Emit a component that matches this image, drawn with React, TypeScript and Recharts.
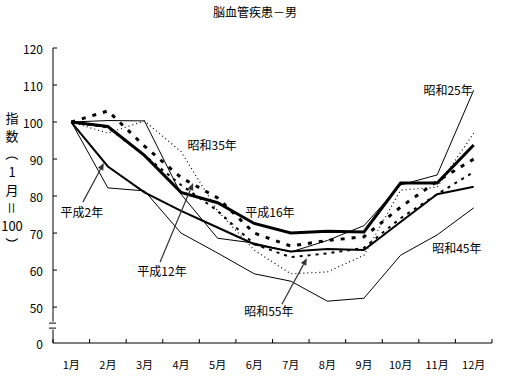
import React from 'react';
import { LineChart, Line, XAxis, YAxis, ReferenceDot } from 'recharts';

const months = ['1月', '2月', '3月', '4月', '5月', '6月', '7月', '8月', '9月', '10月', '11月', '12月'];

// 指数（1月=100）
const s25 = [100, 100.4, 100.3, 80.5, 68.6, 67.3, 64.9, 68, 72, 83, 85.7, 108.6];
const s35 = [100, 97, 100.3, 92, 76, 65.4, 59, 59.5, 64, 81.6, 82.4, 97];
const s45 = [100, 82.2, 81.4, 70, 64.6, 59, 57, 51.6, 52.4, 64, 69.5, 76.8];
const s55 = [100, 98.5, 91, 83, 76, 67, 63.5, 64.5, 66, 74, 80.5, 86.5];
const h2 = [100, 88, 81, 76, 71.5, 67, 65, 65.7, 65.4, 73, 80.5, 82.5];
const h12 = [100, 103, 93.5, 85, 79.5, 70, 66.5, 68, 69, 77, 84, 90];
const h16 = [100, 98.8, 91, 81, 78.2, 72.6, 70, 70.5, 70.3, 83.5, 83.5, 93.8];

const Y_MIN = 40.3; // shown as "0" below the axis break
const Y_BREAK = 45;
const yTicks = [Y_MIN, Y_BREAK, 50, 60, 70, 80, 90, 100, 110, 120];
const xTicks = [0.5, ...months.flatMap((_, i) => [i + 1, i + 1.5])];

const seriesLabels = [
  { text: '平成2年', m: 1.29, v: 75.9 },
  { text: '平成12年', m: 3.48, v: 60 },
  { text: '平成16年', m: 6.43, v: 75.7 },
  { text: '昭和35年', m: 4.85, v: 93.8 },
  { text: '昭和25年', m: 11.3, v: 108.9 },
  { text: '昭和45年', m: 11.54, v: 66.2 },
  { text: '昭和55年', m: 6.4, v: 49.2 },
];

const arrows = [
  { m: 1.89, v: 88.9, dx: -21, dy: 39 },
  { m: 4.33, v: 83.5, dx: -33, dy: 79 },
  { m: 7.44, v: 63.2, dx: -25, dy: 46 },
];

// vertical axis title, one entry per line; rotated ones are turned 90deg
const yTitle = [
  { c: '指', rot: false },
  { c: '数', rot: false },
  { c: '（', rot: true },
  { c: '1', rot: false },
  { c: '月', rot: false },
  { c: '＝', rot: true },
  { c: '100', rot: false },
  { c: '）', rot: true },
];

const rows = months.map((name, i) => ({
  m: i + 1,
  name,
  s25: s25[i],
  s35: s35[i],
  s45: s45[i],
  s55: s55[i],
  h2: h2[i],
  h12: h12[i],
  h16: h16[i],
}));

const FONT = '"Noto Sans CJK JP", sans-serif';

function XTick(props: any) {
  const { x, y, payload } = props;
  const v = payload.value;
  if (Number.isInteger(v)) {
    return (
      <text x={x} y={y + 21} textAnchor="middle" dominantBaseline="central" fontSize={11} fill="#000" fontFamily={FONT}>
        {months[v - 1]}
      </text>
    );
  }
  return <line x1={x} x2={x} y1={y} y2={y - 4} stroke="#000" />;
}

function YTick(props: any) {
  const { x, y, payload } = props;
  const v = payload.value;
  if (v === Y_BREAK) {
    return (
      <g>
        <rect x={x - 4} y={y - 4} width={8} height={8} fill="#fff" />
        <line x1={x - 4} x2={x + 3} y1={y - 2.5} y2={y - 2.5} stroke="#000" />
        <line x1={x - 4} x2={x + 3} y1={y + 2.5} y2={y + 2.5} stroke="#000" />
      </g>
    );
  }
  return (
    <g>
      {v !== Y_MIN && <line x1={x} x2={x + 4} y1={y} y2={y} stroke="#000" />}
      <text x={x - 10} y={y} textAnchor="end" dominantBaseline="central" fontSize={12} fill="#000" fontFamily={FONT}>
        {v === Y_MIN ? '0' : v}
      </text>
    </g>
  );
}

function Arrow({ cx, cy, dx, dy }: any) {
  const len = Math.hypot(dx, dy);
  const ux = -dx / len;
  const uy = -dy / len;
  const hx = cx - ux * 7;
  const hy = cy - uy * 7;
  const px = -uy * 3;
  const py = ux * 3;
  return (
    <g>
      <line x1={cx + dx} y1={cy + dy} x2={hx} y2={hy} stroke="#333" strokeWidth={1.2} />
      <polygon points={`${cx},${cy} ${hx + px},${hy + py} ${hx - px},${hy - py}`} fill="#333" />
    </g>
  );
}

export default function App() {
  return (
    <div style={{ position: 'absolute', left: 0, top: 0, width: 505, height: 377, background: '#fff', fontFamily: FONT }}>
      <div style={{ position: 'absolute', top: 4, left: 0, width: 510, textAlign: 'center', fontSize: 12, lineHeight: '16px' }}>
        脳血管疾患－男
      </div>
      <div style={{ position: 'absolute', left: 2, top: 109, width: 20, display: 'flex', flexDirection: 'column', alignItems: 'center', fontSize: 13, lineHeight: '18px' }}>
        {yTitle.map((t, i) => (
          <span key={i} style={t.rot ? { display: 'inline-block', transform: 'rotate(90deg)' } : undefined}>
            {t.c}
          </span>
        ))}
      </div>
      <LineChart width={505} height={377} data={rows} margin={{ top: 48, right: 13, bottom: 0, left: 13 }}>
        <XAxis
          dataKey="m"
          type="number"
          domain={[0.5, 12.5]}
          ticks={xTicks}
          interval={0}
          tickSize={0}
          tickMargin={0}
          height={34}
          axisLine={{ stroke: '#000' }}
          tick={<XTick />}
        />
        <YAxis
          type="number"
          domain={[Y_MIN, 120]}
          ticks={yTicks}
          interval={0}
          tickSize={0}
          tickMargin={0}
          width={40}
          axisLine={{ stroke: '#000' }}
          tick={<YTick />}
        />
        <Line dataKey="s25" stroke="#000" strokeWidth={1} dot={false} isAnimationActive={false} />
        <Line dataKey="s45" stroke="#000" strokeWidth={1} dot={false} isAnimationActive={false} />
        <Line dataKey="s35" stroke="#000" strokeWidth={1.2} strokeDasharray="1 3" dot={false} isAnimationActive={false} />
        <Line dataKey="s55" stroke="#000" strokeWidth={2} strokeDasharray="3 5" dot={false} isAnimationActive={false} />
        <Line dataKey="h2" stroke="#000" strokeWidth={2} dot={false} isAnimationActive={false} />
        <Line dataKey="h12" stroke="#000" strokeWidth={3} strokeDasharray="4 7" dot={false} isAnimationActive={false} />
        <Line dataKey="h16" stroke="#000" strokeWidth={3} dot={false} isAnimationActive={false} />
        {arrows.map((a, i) => (
          <ReferenceDot
            key={'a' + i}
            x={a.m}
            y={a.v}
            r={0}
            shape={(p: any) => <Arrow cx={p.cx} cy={p.cy} dx={a.dx} dy={a.dy} />}
          />
        ))}
        {seriesLabels.map((l) => (
          <ReferenceDot
            key={l.text}
            x={l.m}
            y={l.v}
            r={0}
            shape={(p: any) => (
              <text x={p.cx} y={p.cy} textAnchor="middle" dominantBaseline="central" fontSize={12} fill="#000" fontFamily={FONT}>
                {l.text}
              </text>
            )}
          />
        ))}
      </LineChart>
    </div>
  );
}
